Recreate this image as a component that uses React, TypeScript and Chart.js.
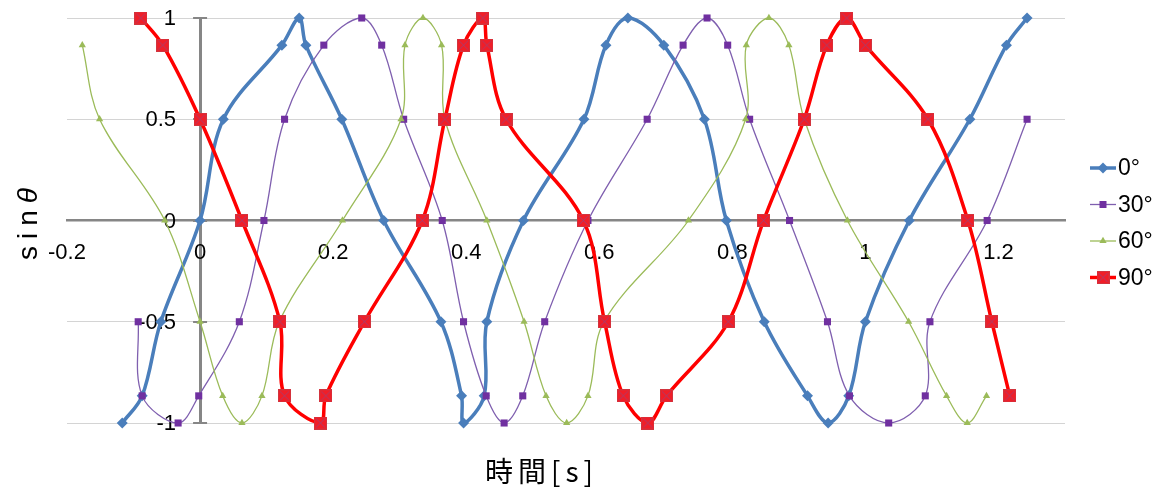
import React, { useEffect, useRef } from 'react';
import { Chart, registerables } from 'chart.js';

Chart.register(...registerables);

// Sample times [s] and sin θ values for each phase offset
const time0 = [-0.117, -0.087, -0.059, 0.0, 0.035, 0.123, 0.149, 0.159, 0.213, 0.276, 0.362, 0.393, 0.396, 0.427, 0.431, 0.486, 0.577, 0.61, 0.643, 0.697, 0.758, 0.791, 0.848, 0.913, 0.944, 0.975, 1.0, 1.066, 1.157, 1.212, 1.243];
const sin0 = [-1, -0.866, -0.5, 0, 0.5, 0.866, 1, 0.866, 0.5, 0, -0.5, -0.866, -1, -0.866, -0.5, 0, 0.5, 0.866, 1, 0.866, 0.5, 0, -0.5, -0.866, -1, -0.866, -0.5, 0, 0.5, 0.866, 1];

const time30 = [-0.093, -0.087, -0.033, -0.002, 0.059, 0.096, 0.127, 0.186, 0.243, 0.273, 0.306, 0.364, 0.396, 0.43, 0.457, 0.485, 0.518, 0.583, 0.672, 0.726, 0.762, 0.793, 0.826, 0.886, 0.943, 0.976, 1.035, 1.09, 1.097, 1.183, 1.243];
const sin30 = [-0.5, -0.866, -1, -0.866, -0.5, 0, 0.5, 0.866, 1, 0.866, 0.5, 0, -0.5, -0.866, -1, -0.866, -0.5, 0, 0.5, 0.866, 1, 0.866, 0.5, 0, -0.5, -0.866, -1, -0.866, -0.5, 0, 0.5];

const time60 = [-0.177, -0.151, -0.053, 0.0, 0.034, 0.063, 0.093, 0.119, 0.214, 0.302, 0.308, 0.335, 0.363, 0.368, 0.431, 0.487, 0.52, 0.551, 0.583, 0.607, 0.734, 0.82, 0.821, 0.855, 0.885, 0.908, 0.973, 1.065, 1.122, 1.153, 1.182];
const sin60 = [0.866, 0.5, 0, -0.5, -0.866, -1, -0.866, -0.5, 0, 0.5, 0.866, 1, 0.866, 0.5, 0, -0.5, -0.866, -1, -0.866, -0.5, 0, 0.5, 0.866, 1, 0.866, 0.5, 0, -0.5, -0.866, -1, -0.866];

const time90 = [-0.089, -0.056, 0.0, 0.063, 0.12, 0.127, 0.181, 0.189, 0.247, 0.334, 0.368, 0.396, 0.425, 0.431, 0.46, 0.576, 0.608, 0.636, 0.673, 0.701, 0.794, 0.847, 0.908, 0.942, 0.972, 1.0, 1.094, 1.154, 1.19, 1.217];
const sin90 = [1, 0.866, 0.5, 0, -0.5, -0.866, -1, -0.866, -0.5, 0, 0.5, 0.866, 1, 0.866, 0.5, 0, -0.5, -0.866, -1, -0.866, -0.5, 0, 0.5, 0.866, 1, 0.866, 0.5, 0, -0.5, -0.866];

const seriesLabels = ['0°', '30°', '60°', '90°'];

const xTicks = [-0.2, 0, 0.2, 0.4, 0.6, 0.8, 1, 1.2];
const xTickLabels = ['-0.2', '0', '0.2', '0.4', '0.6', '0.8', '1', '1.2'];
const yTicks = [-1, -0.5, 0, 0.5, 1];
const yTickLabels = ['-1', '-0.5', '0', '0.5', '1'];

const xTitle = '時間[s]';
const yTitleMain = 'sin';
const yTitleSymbol = 'θ';

const TICK_FONT = "'Liberation Sans', Arial, sans-serif";
const TITLE_FONT = "'Noto Sans CJK JP', 'Noto Sans', sans-serif";
const AXIS_GRAY = '#868686';

function makeRedMarker(size: number): HTMLCanvasElement {
  const c = document.createElement('canvas');
  c.width = size;
  c.height = size;
  const g = c.getContext('2d')!;
  g.fillStyle = '#F01E28';
  g.fillRect(0, 0, size, size);
  g.strokeStyle = '#D2343E';
  g.lineWidth = 1;
  g.strokeRect(0.5, 0.5, size - 1, size - 1);
  g.strokeStyle = 'rgba(125,80,150,0.6)';
  g.beginPath();
  g.moveTo(2, 2);
  g.lineTo(size - 2, size - 2);
  g.moveTo(size - 2, 2);
  g.lineTo(2, size - 2);
  g.stroke();
  return c;
}

const pts = (xs: number[], ys: number[]) => xs.map((x, i) => ({ x, y: ys[i] }));

export default function App() {
  const ref = useRef<HTMLCanvasElement>(null);

  useEffect(() => {
    const canvas = ref.current!;
    const redMarker = makeRedMarker(13);

    const series = [
      { label: seriesLabels[0], data: pts(time0, sin0), color: '#4A7EBB', width: 3.5, style: 'rectRot', radius: 5.5, order: 4 },
      { label: seriesLabels[1], data: pts(time30, sin30), color: '#7F5FAF', width: 1.3, style: 'rect', radius: 5, order: 3, marker: '#7030A0' },
      { label: seriesLabels[2], data: pts(time60, sin60), color: '#9BBB59', width: 1.3, style: 'triangle', radius: 4.2, order: 2 },
      { label: seriesLabels[3], data: pts(time90, sin90), color: '#FF0000', width: 3.5, style: redMarker as any, radius: 6.5, order: 1 },
    ];

    // cross-style tick marks on the vertical axis, plus tick labels beside both axes
    const axisDecor = {
      id: 'axisDecor',
      beforeDatasetsDraw(chart: any) {
        const { ctx, scales } = chart;
        const x0 = scales.x.getPixelForValue(0);
        const y0 = scales.y.getPixelForValue(0);
        ctx.save();
        ctx.strokeStyle = AXIS_GRAY;
        ctx.lineWidth = 2;
        for (const v of yTicks) {
          const y = Math.round(scales.y.getPixelForValue(v));
          ctx.beginPath();
          ctx.moveTo(x0 - 7, y);
          ctx.lineTo(x0 + 7, y);
          ctx.stroke();
        }
        ctx.fillStyle = '#000';
        ctx.font = `22px ${TICK_FONT}`;
        ctx.textAlign = 'right';
        ctx.textBaseline = 'middle';
        yTicks.forEach((v, i) => {
          ctx.fillText(yTickLabels[i], x0 - 24, scales.y.getPixelForValue(v) + 1);
        });
        ctx.textAlign = 'center';
        xTicks.forEach((v, i) => {
          ctx.fillText(xTickLabels[i], scales.x.getPixelForValue(v), y0 + 32);
        });
        ctx.restore();
      },
    };

    const drawSpaced = (ctx: CanvasRenderingContext2D, text: string, x: number, y: number, spacing: number) => {
      let cx = x;
      for (const ch of text) {
        ctx.fillText(ch, cx, y);
        cx += ctx.measureText(ch).width + spacing;
      }
      return cx;
    };
    const spacedWidth = (ctx: CanvasRenderingContext2D, text: string, spacing: number) => {
      let w = 0;
      const chars = Array.from(text);
      chars.forEach((ch, i) => {
        w += ctx.measureText(ch).width + (i < chars.length - 1 ? spacing : 0);
      });
      return w;
    };

    // axis titles and legend
    const decorations = {
      id: 'decorations',
      afterDraw(chart: any) {
        const { ctx } = chart;
        ctx.save();
        ctx.fillStyle = '#000';
        ctx.textAlign = 'left';
        ctx.textBaseline = 'alphabetic';

        // horizontal axis title
        ctx.font = `28px ${TITLE_FONT}`;
        const xs = 5;
        const xw = spacedWidth(ctx, xTitle, xs);
        drawSpaced(ctx, xTitle, 539 - xw / 2, 482, xs);

        // vertical axis title
        ctx.translate(37, 224);
        ctx.rotate(-Math.PI / 2);
        const ys = 7;
        ctx.font = `28px ${TICK_FONT}`;
        const wMain = spacedWidth(ctx, yTitleMain, ys);
        ctx.font = `italic 28px ${TICK_FONT}`;
        const wSym = ctx.measureText(yTitleSymbol).width;
        const total = wMain + ys + wSym;
        ctx.font = `28px ${TICK_FONT}`;
        const end = drawSpaced(ctx, yTitleMain, -total / 2, 0, ys);
        ctx.font = `italic 28px ${TICK_FONT}`;
        ctx.fillText(yTitleSymbol, end, 0);
        ctx.restore();

        // legend
        ctx.save();
        const lx = 1090;
        const lw = 26;
        const ly0 = 168;
        const gap = 36.5;
        series.forEach((s, i) => {
          const y = ly0 + i * gap;
          ctx.strokeStyle = s.color;
          ctx.lineWidth = s.width;
          ctx.beginPath();
          ctx.moveTo(lx, y);
          ctx.lineTo(lx + lw, y);
          ctx.stroke();
          const mx = lx + lw / 2;
          ctx.fillStyle = (s as any).marker || s.color;
          ctx.beginPath();
          if (s.style === 'rectRot') {
            const r = s.radius;
            ctx.moveTo(mx - r, y);
            ctx.lineTo(mx, y - r);
            ctx.lineTo(mx + r, y);
            ctx.lineTo(mx, y + r);
            ctx.closePath();
            ctx.fill();
          } else if (s.style === 'rect') {
            ctx.fillRect(mx - 3.5, y - 3.5, 7, 7);
          } else if (s.style === 'triangle') {
            const r = s.radius;
            ctx.moveTo(mx, y - r);
            ctx.lineTo(mx + r * 0.866, y + r / 2);
            ctx.lineTo(mx - r * 0.866, y + r / 2);
            ctx.closePath();
            ctx.fill();
          } else {
            ctx.drawImage(redMarker, mx - 6.5, y - 6.5);
          }
          ctx.fillStyle = '#000';
          ctx.font = `23px ${TICK_FONT}`;
          ctx.textBaseline = 'middle';
          ctx.textAlign = 'left';
          ctx.fillText(s.label, lx + lw + 2, y + 1);
        });
        ctx.restore();
      },
    };

    const chart = new Chart(canvas, {
      type: 'scatter',
      data: {
        datasets: series.map((s) => ({
          label: s.label,
          data: s.data,
          showLine: true,
          borderColor: s.color,
          backgroundColor: (s as any).marker || s.color,
          pointBackgroundColor: (s as any).marker || s.color,
          pointBorderColor: (s as any).marker || s.color,
          pointBorderWidth: 0,
          borderWidth: s.width,
          pointStyle: s.style,
          pointRadius: s.radius,
          pointHoverRadius: s.radius,
          tension: 0.35,
          order: s.order,
          clip: false,
          borderJoinStyle: 'round',
          borderCapStyle: 'round',
        })) as any,
      },
      options: {
        animation: false,
        responsive: true,
        maintainAspectRatio: false,
        layout: { padding: { left: 67, right: 99, top: 18, bottom: 65 } },
        plugins: {
          legend: { display: false },
          tooltip: { enabled: false },
          title: { display: false },
        },
        scales: {
          x: {
            type: 'linear',
            min: -0.2,
            max: 1.3,
            position: { y: 0 } as any,
            afterBuildTicks: (scale: any) => {
              scale.ticks = xTicks.map((v) => ({ value: v }));
            },
            ticks: { display: false },
            grid: { drawOnChartArea: false, drawTicks: false },
            border: { display: true, color: AXIS_GRAY, width: 2.5 },
          },
          y: {
            type: 'linear',
            min: -1,
            max: 1,
            position: { x: 0 } as any,
            afterBuildTicks: (scale: any) => {
              scale.ticks = yTicks.map((v) => ({ value: v }));
            },
            ticks: { display: false },
            grid: { color: '#D4D4D4', lineWidth: 1, drawTicks: false },
            border: { display: true, color: AXIS_GRAY, width: 3 },
          },
        },
      },
      plugins: [axisDecor, decorations],
    });

    return () => chart.destroy();
  }, []);

  return (
    <div style={{ position: 'fixed', left: 0, top: 0, width: 1164, height: 488, background: '#fff' }}>
      <canvas ref={ref} />
    </div>
  );
}
